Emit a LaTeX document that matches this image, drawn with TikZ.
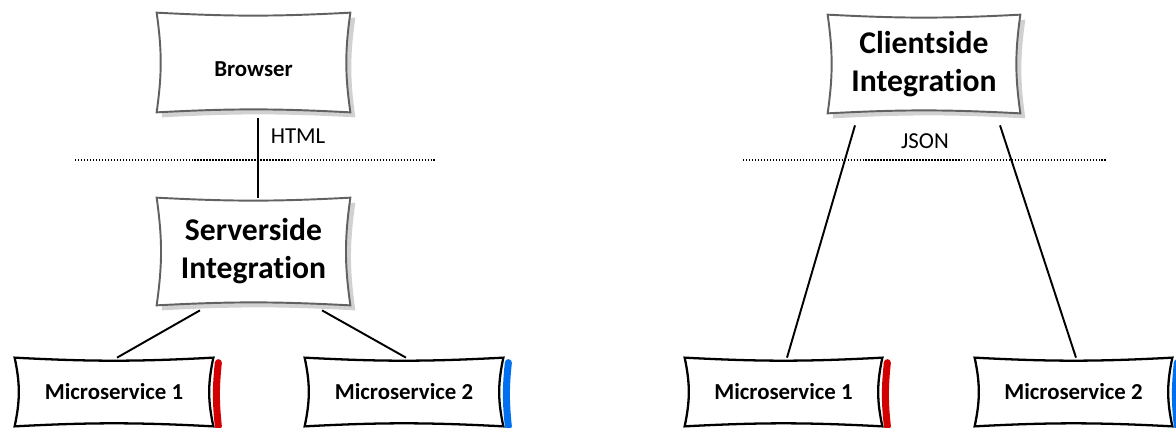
\documentclass[tikz,border=0pt]{standalone}
\usepackage{fontspec}
\setmainfont[Ligatures=NoCommon]{Carlito}
\usetikzlibrary{shadows,backgrounds}
\definecolor{msred}{RGB}{210,0,0}
\definecolor{msblue}{RGB}{0,112,240}
\newcommand{\sketchbox}[3]{%
  \path [#1] (#2.north west) to [bend right=3] (#2.north east)
    to [bend right=#3] (#2.south east) to [bend right=3] (#2.south west)
    to [bend right=#3] (#2.north west) -- cycle;}
\tikzset{
  box/.style={inner sep=0pt, align=center, font=\fontsize{13}{16}\selectfont\bfseries},
  topbox/.style={box, minimum width=3.86cm},
  bigtext/.style={font=\fontsize{18}{21.6}\selectfont\bfseries},
  msbox/.style={box, minimum width=3.96cm, minimum height=1.36cm},
  topframe/.style={draw=black!62, line width=1.1pt, fill=white,
    drop shadow={fill=black!40, opacity=0.45, shadow xshift=0.1cm, shadow yshift=-0.1cm}},
  msframe/.style={draw=black, line width=1.3pt, fill=white},
  link/.style={line width=1.1pt},
  layer/.style={line width=0.7pt, dash pattern=on 0.8pt off 0.9pt},
  bar/.style={line width=4pt, line cap=round}
}
\begin{document}
\begin{tikzpicture}
\useasboundingbox (0,0) rectangle (23.52,-8.54);
% serverside integration
\node [topbox, minimum height=1.98cm, text height=0.55cm] (browser) at (5.07,-1.25) {Browser};
\node [topbox, bigtext, minimum height=2.14cm] (server) at (5.07,-5.03) {Serverside\\Integration};
\node [msbox] (ms1l) at (2.28,-7.84) {Microservice 1};
\node [msbox] (ms2l) at (8.08,-7.84) {Microservice 2};
% clientside integration
\node [topbox, bigtext, minimum width=3.84cm, minimum height=1.96cm] (client) at (18.48,-1.28) {Clientside\\Integration};
\node [msbox, minimum width=3.94cm] (ms1r) at (15.67,-7.84) {Microservice 1};
\node [msbox, minimum width=3.94cm] (ms2r) at (21.47,-7.84) {Microservice 2};
\begin{pgfonlayer}{background}
\foreach \n in {browser,server,client} {\sketchbox{topframe}{\n}{8}}
\foreach \n in {ms1l,ms2l,ms1r,ms2r} {\sketchbox{msframe}{\n}{12}}
\end{pgfonlayer}
\draw [bar, msred] ([xshift=0.1cm,yshift=-0.1cm]ms1l.north east) to [bend right=6] ([xshift=0.1cm]ms1l.south east);
\draw [bar, msblue] ([xshift=0.1cm,yshift=-0.1cm]ms2l.north east) to [bend right=6] ([xshift=0.1cm]ms2l.south east);
\draw [bar, msred] ([xshift=0.1cm,yshift=-0.1cm]ms1r.north east) to [bend right=6] ([xshift=0.1cm]ms1r.south east);
\draw [bar, msblue] ([xshift=0.1cm,yshift=-0.1cm]ms2r.north east) to [bend right=6] ([xshift=0.1cm]ms2r.south east);
\draw [link, shorten <=0.12cm] ([xshift=0.09cm]browser.south) -- node [pos=0.28, right=0.12cm, font=\fontsize{13}{16}\selectfont] {HTML} ([xshift=0.09cm]server.north);
\draw [link] ([xshift=-1.07cm,yshift=-0.1cm]server.south) -- ([xshift=0.06cm]ms1l.north);
\draw [link] ([xshift=1.37cm,yshift=-0.1cm]server.south) -- ([xshift=0.04cm]ms2l.north);
\draw [link] ([xshift=-1.38cm,yshift=-0.24cm]client.south) -- ([xshift=0.07cm]ms1r.north);
\draw [link] ([xshift=1.52cm,yshift=-0.24cm]client.south) -- ([xshift=0.05cm]ms2r.north);
\node [font=\fontsize{13}{16}\selectfont] (json) at (18.5,-2.82) {JSON};
\draw [layer] (1.5,-3.2) -- (8.72,-3.2);
\draw [layer] (14.86,-3.2) -- (22.14,-3.2);
\end{tikzpicture}
\end{document}
